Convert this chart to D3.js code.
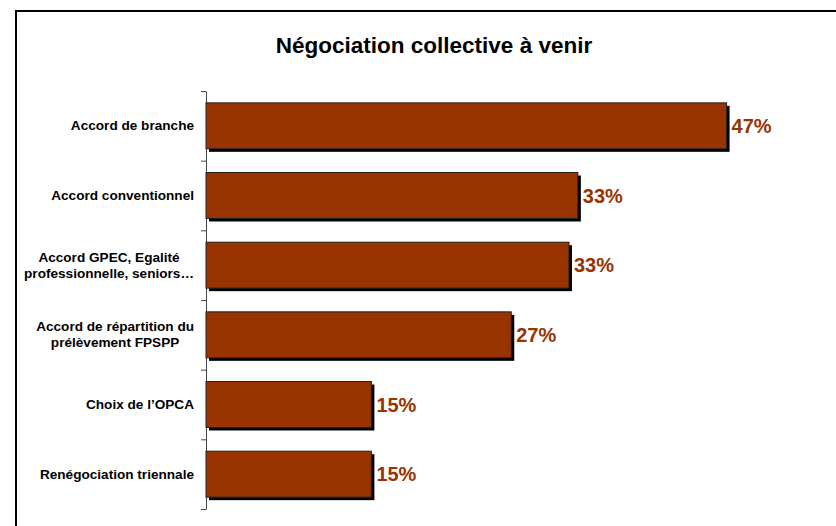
<!DOCTYPE html>
<html>
<head>
<meta charset="utf-8">
<script src="https://cdn.jsdelivr.net/npm/d3@7"></script>
<style>
  body { margin: 0; background: #fff; }
  svg { display: block; font-family: "Liberation Sans", Arial, sans-serif; }
</style>
</head>
<body>
<div id="chart"></div>
<script>
// Data
const categories = [
    ["Accord de branche"],
    ["Accord conventionnel"],
    ["Accord GPEC, Egalité", "professionnelle, seniors…"],
    ["Accord de répartition du", "prélèvement FPSPP"],
    ["Choix de l’OPCA"],
    ["Renégociation triennale"]
];
const values = [46.9, 33.5, 32.7, 27.5, 14.9, 14.9];
const valueLabels = ["47%", "33%", "33%", "27%", "15%", "15%"];
const title = "Négociation collective à venir";

const W = 836, H = 526;
const barColor = "#993300";

const svg = d3.select("#chart").append("svg")
    .attr("width", W)
    .attr("height", H);

// outer frame (runs off the right and bottom edges)
svg.append("rect")
    .attr("x", 16).attr("y", 11)
    .attr("width", W).attr("height", H)
    .attr("fill", "none")
    .attr("stroke", "#000")
    .attr("stroke-width", 2);

svg.append("text")
    .attr("x", 434)
    .attr("y", 53)
    .attr("text-anchor", "middle")
    .style("font-size", "22.5px")
    .style("font-weight", "bold")
    .text(title);

const x = d3.scaleLinear()
    .domain([0, 50])
    .range([206, 206 + 555]);

const idx = d3.range(categories.length);
const y = d3.scaleBand()
    .domain(idx)
    .range([91, 509])
    .paddingInner(0.34)
    .paddingOuter(0.17);

// axis with ticks at category boundaries
const yEdges = d3.scaleLinear()
    .domain([0, categories.length])
    .range([91, 509]);

const axis = svg.append("g")
    .attr("transform", `translate(${x(0)},0)`)
    .call(d3.axisLeft(yEdges)
        .tickValues(d3.range(categories.length + 1))
        .tickSize(5)
        .tickSizeOuter(0)
        .tickFormat(""));
axis.selectAll("path, line").attr("stroke", "#444");

// shadows
svg.append("g")
    .selectAll("rect")
    .data(idx)
    .join("rect")
    .attr("x", x(0) + 3)
    .attr("y", i => y(i) + 3)
    .attr("width", i => x(values[i]) - x(0))
    .attr("height", y.bandwidth())
    .attr("fill", "#000");

// bars
svg.append("g")
    .selectAll("rect")
    .data(idx)
    .join("rect")
    .attr("x", x(0))
    .attr("y", i => y(i))
    .attr("width", i => x(values[i]) - x(0))
    .attr("height", y.bandwidth())
    .attr("fill", barColor)
    .attr("stroke", "#222")
    .attr("stroke-width", 1);

// value labels
svg.append("g")
    .selectAll("text")
    .data(idx)
    .join("text")
    .attr("x", i => x(values[i]) + 5)
    .attr("y", i => y(i) + y.bandwidth() / 2 + 7)
    .style("font-size", "20px")
    .style("font-weight", "bold")
    .attr("fill", barColor)
    .text(i => valueLabels[i]);

// category labels: block right-aligned to the axis, lines centred in block
const labelRight = 194;
const lineH = 16;
const labels = svg.append("g")
    .style("font-size", "13.6px")
    .style("font-weight", "bold")
    .attr("fill", "#000");

idx.forEach(i => {
    const lines = categories[i];
    const g = labels.append("g");
    const texts = g.selectAll("text")
        .data(lines)
        .join("text")
        .attr("text-anchor", "middle")
        .text(d => d);
    const maxW = d3.max(texts.nodes(), n => n.getComputedTextLength());
    const cy = y(i) + y.bandwidth() / 2;
    const first = cy - (lines.length - 1) * lineH / 2 + 4.5;
    texts.attr("x", labelRight - maxW / 2)
        .attr("y", (d, j) => first + j * lineH);
});
</script>
</body>
</html>
